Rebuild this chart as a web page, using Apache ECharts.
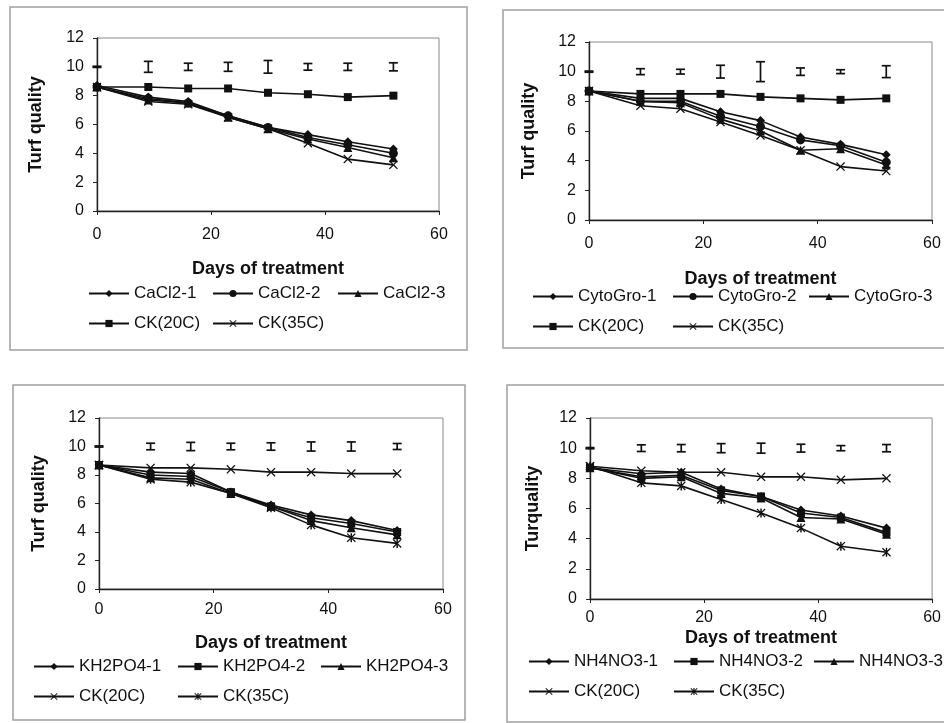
<!DOCTYPE html>
<html><head><meta charset="utf-8">
<script src="https://cdn.jsdelivr.net/npm/echarts@6/dist/echarts.min.js"></script>
<style>html,body{margin:0;padding:0;background:#fff}#c{width:944px;height:723px}</style>
</head><body><div id="c"></div>
<script>
// ---------- data ----------
const days = [0, 9, 16, 23, 30, 37, 44, 52];
const xMin = 0, xMax = 60, xStep = 20;
const yMin = 0, yMax = 12, yStep = 2;
const errMid = [10, 10, 10, 10, 10, 10, 10, 10];

// Panel 1: CaCl2
const caNames = ['CaCl2-1', 'CaCl2-2', 'CaCl2-3', 'CK(20C)', 'CK(35C)'];
const caCl2_1 = [8.7, 7.9, 7.6, 6.6, 5.8, 5.3, 4.8, 4.3];
const caCl2_2 = [8.6, 7.8, 7.5, 6.6, 5.8, 5.1, 4.6, 4.0];
const caCl2_3 = [8.6, 7.7, 7.5, 6.5, 5.7, 5.0, 4.4, 3.7];
const caCk20  = [8.6, 8.6, 8.5, 8.5, 8.2, 8.1, 7.9, 8.0];
const caCk35  = [8.6, 7.6, 7.4, 6.5, 5.7, 4.7, 3.6, 3.2];
const caErr   = [0.04, 0.38, 0.25, 0.31, 0.44, 0.23, 0.25, 0.28];

// Panel 2: CytoGro
const cyNames = ['CytoGro-1', 'CytoGro-2', 'CytoGro-3', 'CK(20C)', 'CK(35C)'];
const cyto1  = [8.7, 8.2, 8.2, 7.3, 6.7, 5.6, 5.1, 4.4];
const cyto2  = [8.7, 8.0, 8.0, 7.0, 6.3, 5.4, 5.0, 3.9];
const cyto3  = [8.7, 8.0, 7.9, 6.8, 6.0, 4.7, 4.8, 3.7];
const cyCk20 = [8.7, 8.5, 8.5, 8.5, 8.3, 8.2, 8.1, 8.2];
const cyCk35 = [8.7, 7.7, 7.5, 6.6, 5.7, 4.7, 3.6, 3.3];
const cyErr  = [0.04, 0.2, 0.16, 0.43, 0.67, 0.25, 0.13, 0.4];

// Panel 3: KH2PO4
const khNames = ['KH2PO4-1', 'KH2PO4-2', 'KH2PO4-3', 'CK(20C)', 'CK(35C)'];
const kh1    = [8.7, 8.2, 8.1, 6.8, 5.9, 5.2, 4.8, 4.1];
const kh2    = [8.7, 8.0, 7.9, 6.8, 5.8, 5.0, 4.6, 4.0];
const kh3    = [8.7, 7.8, 7.7, 6.7, 5.8, 4.8, 4.3, 3.8];
const khCk20 = [8.7, 8.5, 8.5, 8.4, 8.2, 8.2, 8.1, 8.1];
const khCk35 = [8.7, 7.7, 7.5, 6.7, 5.7, 4.5, 3.6, 3.2];
const khErr  = [0.04, 0.23, 0.29, 0.23, 0.26, 0.32, 0.32, 0.21];

// Panel 4: NH4NO3
const nhNames = ['NH4NO3-1', 'NH4NO3-2', 'NH4NO3-3', 'CK(20C)', 'CK(35C)'];
const nh1    = [8.7, 8.3, 8.4, 7.3, 6.8, 5.9, 5.5, 4.7];
const nh2    = [8.7, 8.1, 8.2, 7.2, 6.8, 5.7, 5.4, 4.4];
const nh3    = [8.7, 8.0, 8.1, 7.0, 6.7, 5.4, 5.3, 4.3];
const nhCk20 = [8.8, 8.5, 8.4, 8.4, 8.1, 8.1, 7.9, 8.0];
const nhCk35 = [8.8, 7.7, 7.5, 6.6, 5.7, 4.7, 3.5, 3.1];
const nhErr  = [0.04, 0.22, 0.24, 0.3, 0.33, 0.26, 0.17, 0.24];

const xTitle = 'Days of treatment';
const yTitles = ['Turf quality', 'Turf quality', 'Turf quality', 'Turquality'];

// ---------- layout / style ----------
const XS = 'path://M0,1L1,0L5,4L9,0L10,1L6,5L10,9L9,10L5,6L1,10L0,9L4,5Z';
const STAR = 'path://M0,1L1,0L5,4L9,0L10,1L6,5L10,9L9,10L5,6L1,10L0,9L4,5Z M4.2,0L5.8,0L5.8,10L4.2,10Z';
const FONT = 'Liberation Sans, Arial, sans-serif';
const INK = '#111';

const panels = [
  { names: caNames, vals: [caCl2_1, caCl2_2, caCl2_3, caCk20, caCk35], err: caErr,
    grid: { left: 97, top: 38, width: 342, height: 173 }, frame: [10, 7, 457, 343],
    yGap: 52, xGap: 49, xLabMargin: 16,
    symbols: ['diamond', 'circle', 'triangle', 'rect', XS],
    leg: [[88, 295], [212, 295], [337, 295], [88, 325], [212, 325]] },
  { names: cyNames, vals: [cyto1, cyto2, cyto3, cyCk20, cyCk35], err: cyErr,
    grid: { left: 589, top: 42, width: 343, height: 178 }, frame: [503, 10, 460, 338],
    yGap: 51, xGap: 50, xLabMargin: 16,
    symbols: ['diamond', 'circle', 'triangle', 'rect', XS],
    leg: [[532, 298], [672, 298], [808, 298], [532, 328], [672, 328]] },
  { names: khNames, vals: [kh1, kh2, kh3, khCk20, khCk35], err: khErr,
    grid: { left: 99, top: 418, width: 344, height: 171 }, frame: [13, 385, 452, 335],
    yGap: 51, xGap: 45, xLabMargin: 13,
    symbols: ['diamond', 'rect', 'triangle', XS, STAR],
    leg: [[33, 668], [177, 668], [320, 668], [33, 698], [177, 698]] },
  { names: nhNames, vals: [nh1, nh2, nh3, nhCk20, nhCk35], err: nhErr,
    grid: { left: 590, top: 418, width: 343, height: 181 }, frame: [507, 385, 460, 337],
    yGap: 48, xGap: 30, xLabMargin: 11,
    symbols: ['diamond', 'rect', 'triangle', XS, STAR],
    leg: [[528, 663], [673, 663], [813, 663], [528, 693], [673, 693]] }
];

function errRender(params, api) {
  const x = api.value(0), m = api.value(1), h = api.value(2);
  const a = api.coord([x, m + h]), b = api.coord([x, m - h]);
  const w = 4.5, st = { stroke: INK, lineWidth: 1.7 };
  return { type: 'group', children: [
    { type: 'line', shape: { x1: a[0], y1: a[1], x2: b[0], y2: b[1] }, style: st },
    { type: 'line', shape: { x1: a[0] - w, y1: a[1], x2: a[0] + w, y2: a[1] }, style: st },
    { type: 'line', shape: { x1: b[0] - w, y1: b[1], x2: b[0] + w, y2: b[1] }, style: st }
  ]};
}

const grid = [], xAxis = [], yAxis = [], series = [], legend = [], graphic = [];
panels.forEach((p, i) => {
  grid.push(Object.assign({ show: true, borderColor: '#8a8a8a', borderWidth: 1, backgroundColor: 'transparent' }, p.grid));
  graphic.push({ type: 'rect', silent: true, z: -1,
    shape: { x: p.frame[0], y: p.frame[1], width: p.frame[2], height: p.frame[3] },
    style: { fill: 'none', stroke: '#a0a0a0', lineWidth: 1.5 } });
  xAxis.push({ type: 'value', gridIndex: i, min: xMin, max: xMax, interval: xStep,
    name: xTitle, nameLocation: 'middle', nameGap: p.xGap,
    nameTextStyle: { fontSize: 18, fontWeight: 'bold', color: INK, fontFamily: FONT },
    axisLine: { show: true, onZero: false, lineStyle: { color: '#222', width: 1.4 } },
    axisTick: { show: true, length: 4, lineStyle: { color: '#222' } },
    axisLabel: { fontSize: 16, color: INK, margin: p.xLabMargin, fontFamily: FONT },
    splitLine: { show: false } });
  yAxis.push({ type: 'value', gridIndex: i, min: yMin, max: yMax, interval: yStep,
    name: yTitles[i], nameLocation: 'middle', nameGap: p.yGap,
    nameTextStyle: { fontSize: 18, fontWeight: 'bold', color: INK, fontFamily: FONT },
    axisLine: { show: true, onZero: false, lineStyle: { color: '#222', width: 1.4 } },
    axisTick: { show: true, length: 4, lineStyle: { color: '#222' } },
    axisLabel: { fontSize: 16, color: INK, margin: 13, fontFamily: FONT },
    splitLine: { show: false } });
  series.push({ type: 'custom', xAxisIndex: i, yAxisIndex: i, silent: true, z: 3,
    renderItem: errRender, data: days.map((d, j) => [d, errMid[j], p.err[j]]) });
  p.names.forEach((n, k) => {
    const sname = n + '#' + i;
    const sym = p.symbols[k];
    series.push({ type: 'line', name: sname, xAxisIndex: i, yAxisIndex: i, z: 4,
      data: days.map((d, j) => [d, p.vals[k][j]]),
      symbol: sym, symbolSize: (sym === XS || sym === STAR) ? 9 : (sym === 'rect' ? 8 : 9),
      lineStyle: { color: INK, width: 1.6 }, itemStyle: { color: INK } });
    legend.push({ left: p.leg[k][0], top: p.leg[k][1] - 10, padding: 0, itemGap: 0,
      itemWidth: 40, itemHeight: 9, selectedMode: false, data: [sname],
      formatter: nm => nm.split('#')[0],
      textStyle: { fontSize: 17, color: INK, fontFamily: FONT } });
  });
});

const chart = echarts.init(document.getElementById('c'), null, { renderer: 'canvas' });
chart.setOption({ backgroundColor: '#fff', animation: false, grid, xAxis, yAxis, series, legend, graphic });
</script></body></html>
